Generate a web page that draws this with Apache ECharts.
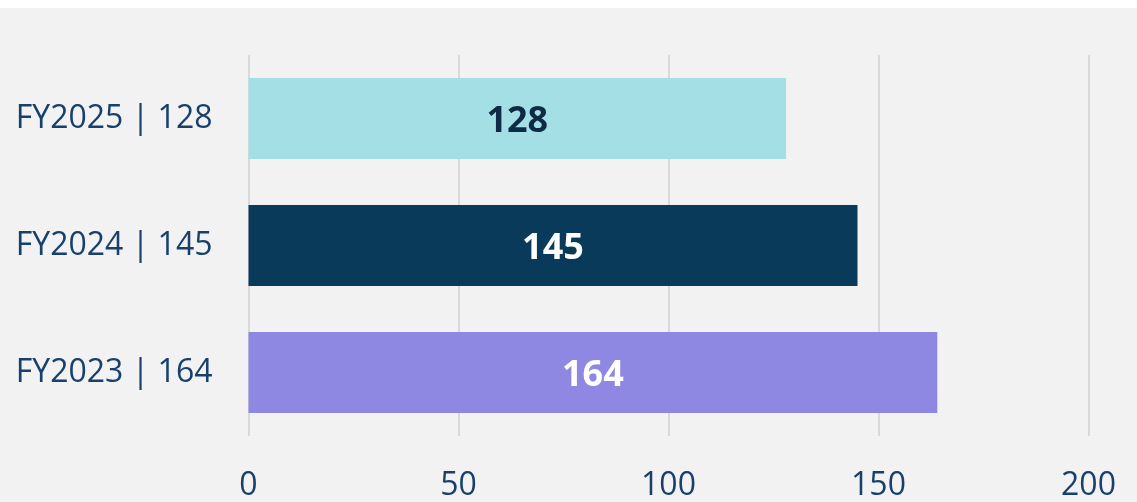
<!DOCTYPE html>
<html lang="en">
<head>
<meta charset="UTF-8">
<title>FY bars</title>
<script src="https://cdn.jsdelivr.net/npm/echarts@6/dist/echarts.min.js"></script>
<style>
html, body { margin: 0; padding: 0; background: #ffffff; }
#chart { position: absolute; left: 0; top: 8px; width: 1137px; height: 494px; background: #f2f2f2; }
</style>
</head>
<body>
<div id="chart"></div>
<script>
// data, bottom to top
const years = ['FY2023', 'FY2024', 'FY2025'];
const values = [164, 145, 128];
const barColors = ['#8f88e3', '#0a3a5a', '#a5dfe6'];
const labelColors = ['#ffffff', '#ffffff', '#0f2a45'];
const xTicks = [0, 50, 100, 150, 200];

const chart = echarts.init(document.getElementById('chart'));

const option = {
animation: false,
grid: {
left: 248.5,
right: 48.5,
top: 47,
bottom: 64
},
xAxis: {
type: 'value',
min: xTicks[0],
max: xTicks[xTicks.length - 1],
interval: xTicks[1] - xTicks[0],
axisLine: { show: false },
axisTick: { show: false },
axisLabel: {
margin: 34,
fontFamily: 'Open Sans',
fontSize: 32,
color: '#17406d'
},
splitLine: {
lineStyle: { color: '#d9d9d9', width: 2 }
}
},
yAxis: {
type: 'category',
data: years,
axisLine: { show: false },
axisTick: { show: false },
axisLabel: {
margin: 36,
fontFamily: 'Open Sans',
fontSize: 32,
color: '#17406d',
formatter: (v, i) => v + ' | ' + values[i]
}
},
series: [{
type: 'bar',
barWidth: 81,
data: values.map((v, i) => ({
value: v,
itemStyle: { color: barColors[i] },
label: { color: labelColors[i] }
})),
label: {
show: true,
position: 'inside',
offset: [0, 3],
fontFamily: 'Open Sans',
fontWeight: 'bold',
fontSize: 36
}
}]
};

chart.setOption(option);
</script>
</body>
</html>
